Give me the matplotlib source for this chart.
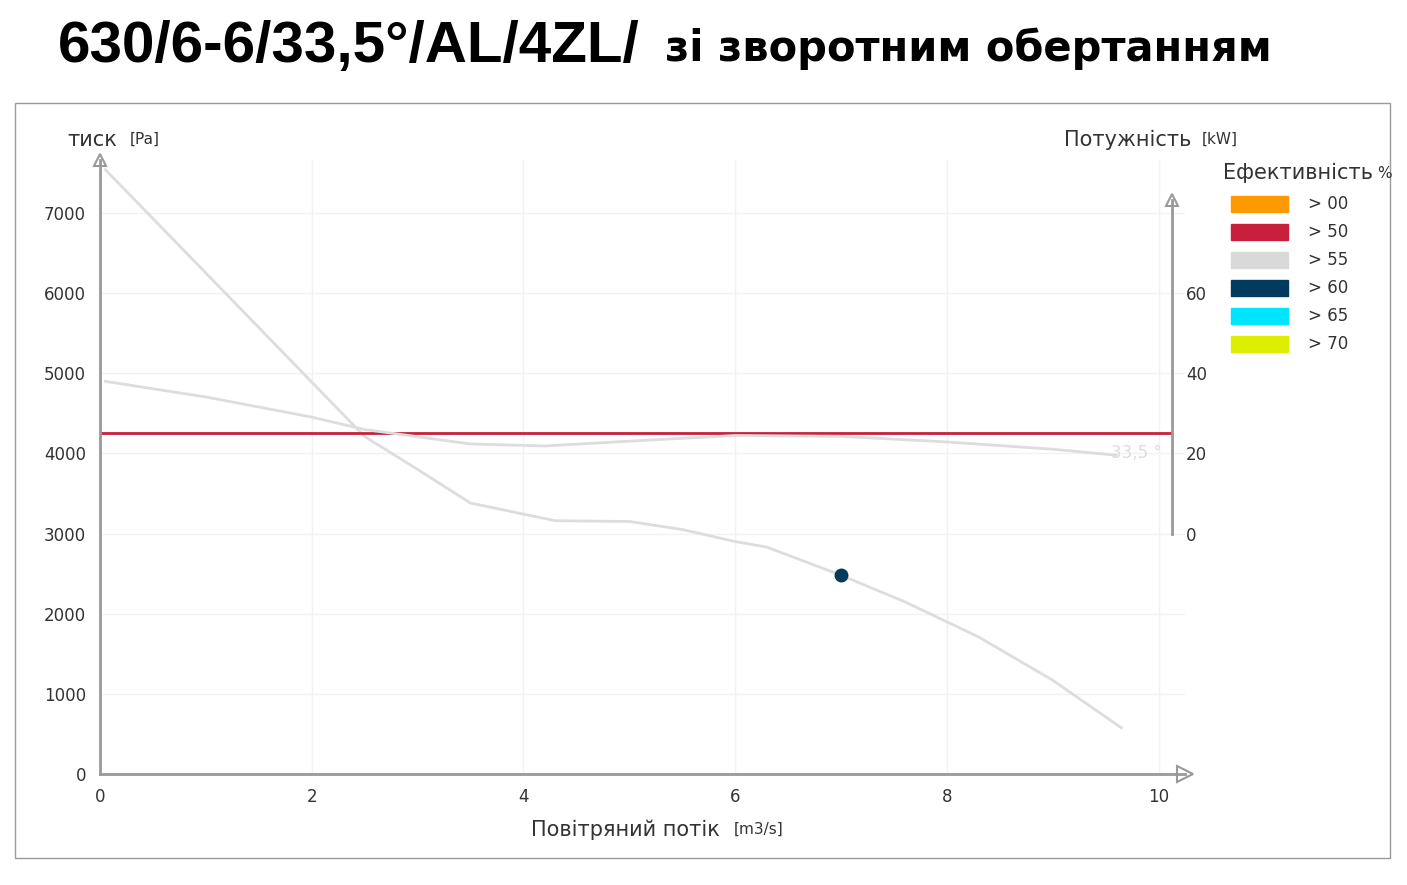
import matplotlib
matplotlib.use("Agg")
import matplotlib.pyplot as plt
from matplotlib.patches import Rectangle

flow_p = [0.05, 1.0, 2.0, 2.5, 3.0, 3.5, 4.3, 5.0, 5.5, 6.0, 6.3, 7.0, 7.6, 8.3, 9.0, 9.65]
pressure = [7540, 6250, 4890, 4210, 3800, 3380, 3160, 3150, 3050, 2900, 2830, 2480, 2150, 1710, 1170, 575]
flow_w = [0.05, 1.0, 2.0, 2.5, 3.5, 4.2, 5.0, 6.0, 7.0, 8.0, 9.0, 9.6]
power = [37.9, 34.0, 29.0, 25.9, 22.3, 21.8, 23.0, 24.4, 24.2, 22.8, 21.0, 19.5]
op_point = (7.0, 2480)
red_level = 4250
blade_label = "33,5 °"
xticks = [0, 2, 4, 6, 8, 10]
yticks = [0, 1000, 2000, 3000, 4000, 5000, 6000, 7000]
kw_ticks = [0, 20, 40, 60]
leg_labels = ["> 00", "> 50", "> 55", "> 60", "> 65", "> 70"]
leg_colors = ["#FF9900", "#C8203C", "#D9D9D9", "#003A5C", "#00E5FF", "#DDEE00"]

plt.rcParams['font.family'] = ['DejaVu Sans']
fig = plt.figure(figsize=(14.07, 8.85), dpi=100)
fig.patches.append(Rectangle((15/1407, 1-858/885), 1375/1407, 755/885, transform=fig.transFigure,
                             fill=False, ec="#999999", lw=1))
fig.text(58/1407, 1-47/885, "630/6-6/33,5°/AL/4ZL/", fontsize=42, fontweight="bold",
         family="Liberation Sans", va="center")
fig.text(665/1407, 1-49/885, "зі зворотним обертанням", fontsize=30, fontweight="bold",
         family="DejaVu Sans", va="center")

ax = fig.add_axes([100/1407, 1-774/885, 1085/1407, 614/885])
ymax = 7660
ax.set_xlim(0, 10.25); ax.set_ylim(0, ymax)
for s in ["top", "right"]:
    ax.spines[s].set_visible(False)
for s in ["left", "bottom"]:
    ax.spines[s].set_color("#999999"); ax.spines[s].set_linewidth(2)
ax.plot(0, 1, "^", transform=ax.transAxes, ms=9, mfc="white", mec="#999999", mew=1.5, clip_on=False)
ax.plot(1, 0, ">", transform=ax.transAxes, ms=12, mfc="white", mec="#999999", mew=1.5, clip_on=False)
ax.set_xticks(xticks); ax.set_yticks(yticks)
ax.tick_params(length=0, labelsize=12, colors="#333333", pad=10)
ax.grid(True, color="#f2f2f2", lw=1)
ax.set_axisbelow(True)

ax.plot(flow_p, pressure, color="#dddddd", lw=2)
ax.hlines(red_level, 0, 10.13, color="#C8203C", lw=2)
ax.plot(*op_point, "o", color="#003A5C", ms=9)

scale = 50.1
ax2 = ax.twinx()
ax2.set_ylim(-3000/scale, (ymax-3000)/scale)
ax2.plot(flow_w, power, color="#dddddd", lw=2)
ax2.text(9.55, 20, blade_label, color="#dddddd", fontsize=12, ha="left", va="center")
for s in ["top", "left", "bottom"]:
    ax2.spines[s].set_visible(False)
ax2.spines["right"].set_position(("data", 10.13))
ax2.spines["right"].set_bounds(0, 83)
ax2.spines["right"].set_color("#999999"); ax2.spines["right"].set_linewidth(2)
ax2.plot(10.13, 83, "^", ms=9, mfc="white", mec="#999999", mew=1.5, clip_on=False)
ax2.set_yticks(kw_ticks)
ax2.tick_params(length=0, labelsize=12, colors="#333333", pad=10)

fig.text(67/1407, 1-140/885, "тиск", fontsize=15, va="center", color="#333333")
fig.text(130/1407, 1-139/885, "[Pa]", fontsize=11, va="center", color="#333333")
fig.text(1064/1407, 1-140/885, "Потужність", fontsize=15, va="center", color="#333333")
fig.text(1202/1407, 1-139/885, "[kW]", fontsize=11, va="center", color="#333333")
fig.text(531/1407, 1-830/885, "Повітряний потік", fontsize=15, va="center", color="#333333")
fig.text(734/1407, 1-829/885, "[m3/s]", fontsize=11, va="center", color="#333333")
fig.text(1223/1407, 1-173/885, "Ефективність", fontsize=15, va="center", color="#333333")
fig.text(1377/1407, 1-173/885, "%", fontsize=11, va="center", color="#333333")
for i, (lab, c) in enumerate(zip(leg_labels, leg_colors)):
    yc = 204 + 28*i
    fig.patches.append(Rectangle((1231/1407, 1-(yc+8)/885), 57/1407, 16/885,
                                 transform=fig.transFigure, color=c))
    fig.text(1308/1407, 1-yc/885, lab, fontsize=12, va="center", color="#333333")

fig.savefig("out.png", dpi=100)
